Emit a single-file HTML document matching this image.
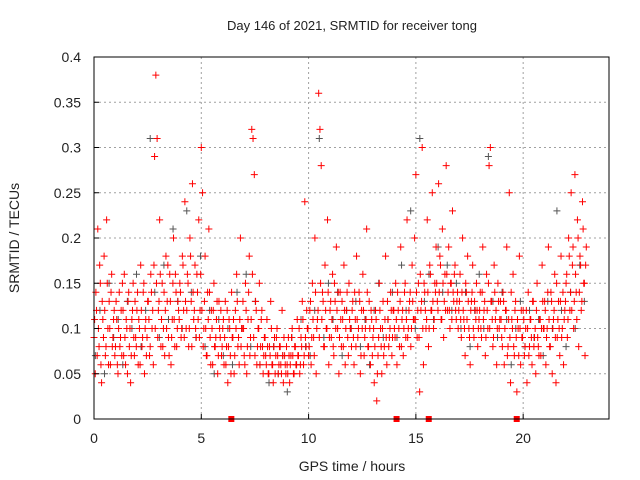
<!DOCTYPE html>
<html><head><meta charset="utf-8"><style>
body{margin:0;background:#fff;}
svg{display:block;font-family:"Liberation Sans",sans-serif;}
</style></head><body>
<svg id="c" width="640" height="480">
<rect width="640" height="480" fill="#fff"/>
<text x="352" y="30" font-size="13" text-anchor="middle" fill="#222">Day 146 of 2021, SRMTID for receiver tong</text>
<text x="352" y="471" font-size="14" text-anchor="middle" fill="#222">GPS time / hours</text>
<text transform="translate(19,238) rotate(-90)" font-size="14" text-anchor="middle" fill="#222">SRMTID / TECUs</text>
<g id="grid"></g><g id="marks"></g><g id="axes"></g>
</svg>
<script>
const xTicks=[0,5,10,15,20];
const yTicks=[0,0.05,0.1,0.15,0.2,0.25,0.3,0.35,0.4];
const yLabels=["0","0.05","0.1","0.15","0.2","0.25","0.3","0.35","0.4"];
const gapHours=[6.4,14.1,15.6,19.7];
const redA=[
.09,.05,.12,.21,.08,.15,.04,.11,.18,.07,.22,.10,.13,.06,.16,.09,.12,
.08,.11,.05,.14,.09,.07,.12,.16,.06,.10,.13,.08,.04,.11,.15,.07,.09,
.12,.06,.10,.17,.08,.14,.05,.11,.09,.13,.07,.16,.10,.06,.29,.38,.31,
.12,.22,.08,.15,.10,.07,.18,.13,.09,.16,.06,.11,.20,.08,.14,.10,.12,
.15,.09,.18,.12,.24,.10,.16,.08,.20,.13,.26,.11,.17,.09,.14,.22,.12,
.30,.25,.10,.18,.07,.14,.21,.09,.12,.06,.15,.08,.11,.05,.13,.09,.07,
.10,.06,.13,.08,.04,.11,.07,.14,.09,.05,.12,.16,.08,.06,.20,.10,.13,
.07,.15,.05,.11,.18,.09,.32,.31,.27,.13,.06,.10,.15,.08,.12,.05,.09,
.07,.11,.05,.08,.13,.06,.04,.09,.07,.10,.05,.08,.06,.12,.04,.07,.05,
.06,.09,.04,.07,.10,.05,.08,.06,.11,.07,.05,.09,.13,.06,.24,.08,.10,
.07,.12,.06,.15,.09,.20,.05,.11,.36,.32,.28,.14,.08,.17,.10,.22,.06,
.12,.09,.16,.07,.13,.19,.10,.05,.14,.08,.11,.17,.06,.12,.09,.15,.10,
.08,.13,.06,.11,.18,.09,.14,.05,.12,.16,.07,.10,.21,.08,.13,.06,.11,
.09,.04,.12,.02,.07,.15,.10,.05,.13,.08,.18,.06,.11,.09,.14,.07,.12,
.10,.15,.06,.12,.08,.19,.11,.07,.14,.09,.22,.10,.13,.08,.17,.11,.20,
.27,.09,.15,.03,.12,.30,.06,.14,.10,.22,.08,.17,.12,.25,.10,.15,.19,
.13,.26,.18,.11,.21,.09,.16,.28,.12,.19,.10,.15,.23,.13,.17,.11,.14,
.12,.16,.09,.20,.11,.07,.14,.18,.10,.06,.13,.17,.09,.12,.15,.08,.11,
.14,.09,.19,.12,.07,.16,.10,.28,.30,.13,.08,.17,.11,.06,.15,.10,.13,
.09,.14,.06,.12,.19,.08,.25,.04,.11,.16,.07,.13,.03,.10,.18,.06,.09,
.12,.07,.10,.04,.14,.08,.11,.06,.13,.09,.05,.15,.08,.11,.07,.17,.10,
.13,.06,.10,.19,.08,.14,.05,.11,.16,.04,.09,.13,.07,.18,.10,.06,.12,
.15,.09,.20,.12,.25,.17,.10,.27,.14,.22,.08,.18,.12,.24,.15,.07,.19];
const redB=[
.11,.14,.07,.10,.17,.06,.13,.09,.12,.08,.15,.06,.10,.14,.08,.11,.07,
.13,.06,.10,.08,.12,.15,.07,.09,.11,.05,.14,.10,.07,.12,.09,.13,
.08,.14,.11,.06,.12,.09,.15,.10,.07,.13,.11,.08,.14,.12,.17,.10,.15,
.09,.13,.16,.11,.08,.14,.12,.10,.17,.07,.13,.09,.15,.11,.16,.08,.13,
.11,.14,.10,.17,.09,.13,.12,.15,.10,.18,.08,.14,.12,.10,.16,.11,.09,
.16,.12,.08,.13,.10,.07,.11,.14,.06,.10,.12,.08,.09,.13,.07,.10,.12,
.08,.11,.09,.06,.12,.08,.10,.05,.09,.11,.07,.10,.13,.09,.11,.08,.10,
.10,.06,.12,.08,.14,.07,.11,.16,.09,.07,.12,.08,.10,.06,.11,.08,.07,
.09,.06,.08,.05,.07,.10,.06,.08,.05,.09,.07,.06,.08,.05,.07,.09,.06,
.08,.05,.07,.06,.09,.07,.05,.08,.06,.07,.10,.06,.08,.11,.07,.09,.12,
.10,.08,.13,.09,.11,.07,.14,.10,.12,.09,.15,.11,.13,.08,.12,.10,.14,
.09,.13,.11,.08,.15,.10,.12,.14,.09,.11,.13,.08,.12,.10,.14,.07,.11,
.10,.12,.09,.14,.08,.11,.10,.13,.07,.10,.12,.09,.11,.14,.08,.10,.12,
.07,.10,.08,.11,.05,.09,.12,.08,.10,.07,.11,.09,.13,.08,.10,.12,.09,
.12,.09,.11,.14,.10,.13,.08,.12,.10,.15,.11,.09,.12,.14,.10,.13,.11,
.11,.14,.12,.09,.16,.13,.10,.15,.12,.11,.14,.10,.16,.12,.13,.11,.14,
.15,.12,.14,.17,.11,.15,.13,.12,.16,.14,.12,.15,.11,.14,.16,.12,.13,
.10,.13,.11,.14,.12,.10,.15,.11,.13,.09,.12,.14,.10,.13,.11,.12,.10,
.12,.10,.14,.11,.13,.09,.12,.15,.10,.13,.11,.09,.14,.12,.10,.13,.11,
.11,.08,.13,.10,.12,.07,.11,.09,.14,.10,.08,.12,.09,.11,.07,.10,.12,
.09,.11,.08,.12,.10,.07,.11,.09,.13,.08,.10,.12,.09,.07,.11,.10,.13,
.10,.12,.09,.14,.11,.08,.13,.10,.12,.09,.15,.11,.10,.13,.09,.14,.11,
.13,.16,.11,.18,.14,.12,.19,.13,.16,.11,.20,.14,.17,.13,.21,.15,.17];
const grayV=[.07,.12,.05,.15,.09,.11,.06,.13,.10,.16,.08,.12,.31,.14,.09,.17,
.11,.21,.13,.10,.23,.14,.09,.18,.08,.12,.05,.11,.07,.10,.06,.14,
.10,.16,.08,.13,.06,.09,.04,.08,.05,.07,.03,.09,.06,.11,.08,.07,
.12,.31,.09,.15,.11,.14,.07,.12,.10,.13,.08,.11,.06,.12,.15,.09,
.11,.14,.09,.17,.12,.23,.10,.31,.13,.16,.11,.19,.14,.17,.12,.15,
.10,.14,.08,.12,.16,.10,.29,.13,.09,.14,.11,.06,.10,.13,.08,.12,
.09,.11,.07,.13,.10,.23,.12,.08,.14,.10,.17,.13];
const X0=94,X1=609,Y0=419,Y1=57,XMAX=24,YMAX=0.4;
function sx(h){return X0+(X1-X0)*h/XMAX;}
function sy(v){return Y0-(Y0-Y1)*v/YMAX;}
const NS='http://www.w3.org/2000/svg';
function mk(tag,attrs,parent){const e=document.createElementNS(NS,tag);for(const k in attrs)e.setAttribute(k,attrs[k]);parent.appendChild(e);return e;}
const grid=document.getElementById('grid'),marks=document.getElementById('marks'),axes=document.getElementById('axes');
xTicks.forEach(t=>{
 const g=mk('line',{x1:sx(t),x2:sx(t),y1:Y0,y2:Y1,stroke:'#a0a0a0','stroke-dasharray':'2,3'},grid);
 
 
 const tl=mk('text',{x:sx(t),y:Y0+24,'font-size':14,'text-anchor':'middle',fill:'#222'},axes);
 tl.textContent=t;
 
 
 mk('line',{x1:sx(t),x2:sx(t),y1:Y0,y2:Y0-5,stroke:'#000'},axes);
});
yTicks.forEach((t,i)=>{
 const g=mk('line',{x1:X0,x2:X1,y1:sy(t),y2:sy(t),stroke:'#a0a0a0','stroke-dasharray':'2,3'},grid);
 
 
 const tl=mk('text',{x:X0-13,y:sy(t)+5,'font-size':14,'text-anchor':'end',fill:'#222'},axes);
 tl.textContent=yLabels[i];
 
 
 mk('line',{x1:X0,x2:X0+5,y1:sy(t),y2:sy(t),stroke:'#000'},axes);
});
function plus(h,v,col){
 const p=mk('path',{d:`M${sx(h)-3.5},${sy(v)}h7M${sx(h)},${sy(v)-3.5}v7`,stroke:col,'stroke-width':1,fill:'none'},marks);
 return p;
}
grayV.forEach((v,i)=>{
 const p=plus((i+0.3)*23/grayV.length,v,'#555');
 
 
});
redA.forEach((v,i)=>{
 const p=plus(i/17,v,'#f00');
 
 
});
redB.forEach((v,i)=>{
 const p=plus((i+0.5)/17,v,'#f00');
 
 
});
gapHours.forEach(h=>{
 const r=mk('rect',{x:sx(h)-3,y:Y0-3,width:6,height:6,fill:'#f00'},marks);
 
 
});
const box=mk('rect',{x:X0,y:Y1,width:X1-X0,height:Y0-Y1,fill:'none',stroke:'#000','stroke-width':1},axes);


</script>
</body></html>
